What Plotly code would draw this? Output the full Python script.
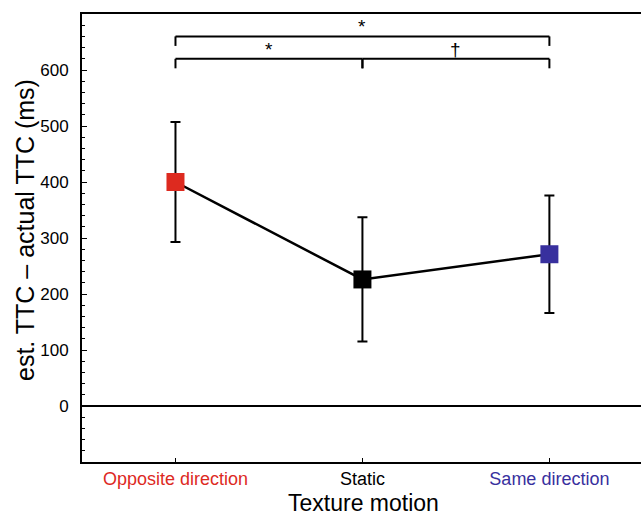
import plotly.graph_objects as go

categories = ["Opposite direction", "Static", "Same direction"]
x_pos = [0, 1, 2]
means = [400, 226, 271]
errors = [107, 111, 105]
colors = ["#dd2a1f", "#000000", "#38309e"]
ytick_vals = [0, 100, 200, 300, 400, 500, 600]
ytick_text = ["0", "100", "200", "300", "400", "500", "600"]

# significance comparisons: (from, to, level, label)
comp_from = [0, 0, 1]
comp_to = [2, 1, 2]
comp_level = [660, 620, 620]
comp_label = ["*", "*", "†"]
tip = 17

FONT = "Liberation Sans, Arial, Helvetica, sans-serif"

fig = go.Figure()
fig.add_trace(go.Scatter(
    x=x_pos, y=means, mode="lines+markers",
    line=dict(color="black", width=2.5),
    marker=dict(symbol="square", size=18, color=colors, line=dict(width=0)),
    error_y=dict(type="data", array=errors, color="black", thickness=2, width=5),
    showlegend=False, cliponaxis=False,
))

shapes = []
annotations = []
for a, b, lvl, lab in zip(comp_from, comp_to, comp_level, comp_label):
    shapes.append(dict(type="line", xref="x", yref="y", x0=a, x1=b, y0=lvl, y1=lvl,
                       line=dict(color="black", width=2)))
    for xx in (a, b):
        shapes.append(dict(type="line", xref="x", yref="y", x0=xx, x1=xx, y0=lvl, y1=lvl - tip,
                           line=dict(color="black", width=2)))
    annotations.append(dict(x=(a + b) / 2, y=lvl, xref="x", yref="y", text=lab,
                            showarrow=False, yanchor="bottom", yshift=-3,
                            font=dict(family=FONT, size=19, color="#000000")))

annotations.append(dict(text="est. TTC – actual TTC (ms)", xref="paper", yref="paper",
                        x=(25 - 82) / 559, y=(462 - 230) / 448, textangle=-90,
                        xanchor="center", yanchor="middle", showarrow=False,
                        font=dict(family=FONT, size=25, color="black")))
annotations.append(dict(text="Texture motion", xref="paper", yref="paper",
                        x=(363 - 82) / 559, y=-(503 - 462) / 448,
                        xanchor="center", yanchor="middle", showarrow=False,
                        font=dict(family=FONT, size=23, color="black")))

ticktext = [f'<span style="color:{c}">{t}</span>' for t, c in zip(categories, colors)]

fig.update_layout(
    width=641, height=515,
    margin=dict(l=82, r=0, t=14, b=53),
    plot_bgcolor="white", paper_bgcolor="white",
    font=dict(family=FONT, color="black"),
    shapes=shapes, annotations=annotations,
    xaxis=dict(range=[-0.5, 2.49], tickvals=x_pos, ticktext=ticktext,
               ticks="inside", ticklen=4, tickwidth=1, tickcolor="black",
               showline=True, linecolor="black", linewidth=2, mirror=True,
               showgrid=False, zeroline=False, tickfont=dict(size=18, family=FONT),
               ticklabelstandoff=-1),
    yaxis=dict(range=[-100, 700], tickvals=ytick_vals, ticktext=ytick_text,
               ticks="inside", ticklen=5, tickwidth=1, tickcolor="black",
               minor=dict(dtick=20, tick0=0, ticks="inside", ticklen=3, tickwidth=1, tickcolor="black"),
               showline=True, linecolor="black", linewidth=2,
               showgrid=False, zeroline=True, zerolinecolor="black", zerolinewidth=2,
               tickfont=dict(size=17, family=FONT), ticklabelstandoff=8),
)

fig.write_html("out.html")
